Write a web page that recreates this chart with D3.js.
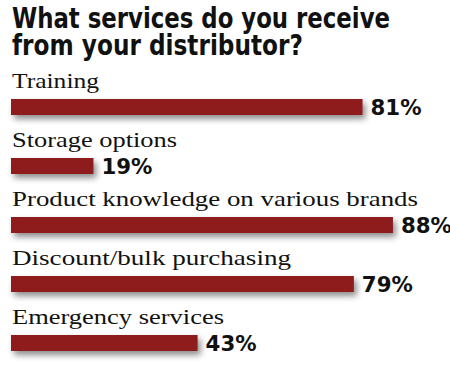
<!DOCTYPE html>
<html><head><meta charset="utf-8">
<script src="https://cdn.jsdelivr.net/npm/d3@7"></script>
<style>html,body{margin:0;padding:0;background:#fff;}svg{display:block;}</style>
</head><body>
<script>
const titleLines = ["What services do you receive", "from your distributor?"];
const categories = ["Training", "Storage options", "Product knowledge on various brands", "Discount/bulk purchasing", "Emergency services"];
const values = [81, 19, 88, 79, 43];
const valueLabels = ["81%", "19%", "88%", "79%", "43%"];

const W = 450, H = 375;
const svg = d3.select("body").append("svg").attr("width", W).attr("height", H);

const defs = svg.append("defs");
const f = defs.append("filter").attr("id", "sh").attr("x", "-10%").attr("y", "-60%").attr("width", "130%").attr("height", "260%");
f.append("feGaussianBlur").attr("in", "SourceAlpha").attr("stdDeviation", 3).attr("result", "b");
f.append("feOffset").attr("in", "b").attr("dx", 3).attr("dy", 4).attr("result", "o");
f.append("feComponentTransfer").attr("in", "o").attr("result", "o2")
  .append("feFuncA").attr("type", "linear").attr("slope", 0.45);
const m = f.append("feMerge");
m.append("feMergeNode").attr("in", "o2");
m.append("feMergeNode").attr("in", "SourceGraphic");

// title: narrower font size, stretched vertically to match the tall bold face
const titleW = [378, 291];
svg.selectAll("text.title").data(titleLines).join("text")
  .attr("class", "title")
  .attr("transform", (d, i) => `translate(12,${28 + i * 27}) scale(1,1.25)`)
  .attr("x", 0).attr("y", 0)
  .attr("textLength", (d, i) => titleW[i]).attr("lengthAdjust", "spacingAndGlyphs")
  .style("font-family", "'DejaVu Sans', sans-serif").style("font-weight", "bold")
  .style("font-size", "23px").attr("fill", "#111").text(d => d);

const x = d3.scaleLinear().domain([0, 100]).range([11, 445]);
const y = d3.scaleBand().domain(categories).range([77, 372]).paddingInner(0).paddingOuter(0);
// each band 59px: label baseline at band+11, bar top at band+22

const labelW = [87, 165, 406, 279, 212];
const g = svg.selectAll("g.row").data(categories).join("g").attr("class", "row")
  .attr("transform", d => `translate(0,${y(d)})`);

g.append("text")
  .attr("x", 12).attr("y", 11)
  .attr("textLength", (d, i) => labelW[i]).attr("lengthAdjust", "spacingAndGlyphs")
  .style("font-family", "'Liberation Serif', serif").style("font-size", "21px")
  .attr("fill", "#111").text(d => d);

g.append("rect")
  .attr("x", x(0)).attr("y", 22)
  .attr("width", (d, i) => x(values[i]) - x(0)).attr("height", 16)
  .attr("fill", "#8e1a1f").attr("filter", "url(#sh)");

g.append("text")
  .attr("x", (d, i) => x(values[i]) + 8).attr("y", 38)
  .attr("textLength", 51).attr("lengthAdjust", "spacingAndGlyphs")
  .style("font-family", "'DejaVu Sans', sans-serif").style("font-weight", "bold")
  .style("font-size", "21px").attr("fill", "#111")
  .text((d, i) => valueLabels[i]);
</script>
</body></html>
